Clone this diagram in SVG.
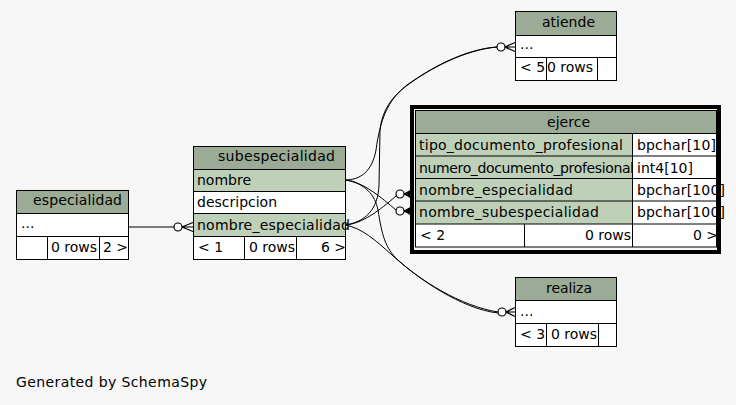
<svg xmlns="http://www.w3.org/2000/svg" width="736" height="405" viewBox="0 0 736 405">
<style>
text{font-family:"DejaVu Sans","Liberation Sans",sans-serif;font-size:14px;fill:#000}
.hd{fill:#9bab96}
.key{fill:#bed1b8}
.wh{fill:#ffffff}
.ln{stroke:#000;stroke-width:1;fill:none}
.edge{stroke:#000;stroke-width:1;fill:none}
.dot{stroke:#000;stroke-width:1.2;fill:#ffffff}
.crow{stroke:#000;stroke-width:1.2;fill:none}
.fcrow{stroke:#000;stroke-width:1;fill:#000}
</style>
<rect x="0" y="0" width="736" height="405" fill="#f7f7f7"/>

<g id="connectors">
  <path class="edge" d="M128,227 L174,227"/>
  <path class="edge" d="M345,180 C360,180 372,172 376,150 C380,120 388,100 405,87 C430,68 465,50 497,47"/>
  <path class="edge" d="M345,225 C365,222 378,210 379,185 L380,130 C382,110 392,97 407,85 C432,67 466,49 497,47"/>
  <path class="edge" d="M345,225 C362,224 380,210 396,196"/>
  <path class="edge" d="M345,180 C362,181 382,198 396,210"/>
  <path class="edge" d="M345,180 C365,183 375,195 378,210 C382,235 385,248 398,260 C420,280 460,306 498,312"/>
  <path class="edge" d="M345,225 C362,228 375,240 392,255 C418,279 462,309 498,313"/>
  <circle class="dot" cx="178" cy="227" r="4"/>
  <path class="crow" d="M182,227 L193,222.5 M182,227 L193,227 M182,227 L193,231.5"/>
  <circle class="dot" cx="501" cy="47" r="4"/>
  <path class="crow" d="M505,47 L515,42.5 M505,47 L515,47 M505,47 L515,51.5"/>
  <circle class="dot" cx="502" cy="312" r="4"/>
  <path class="crow" d="M506,312 L515,307.5 M506,312 L515,312 M506,312 L515,316.5"/>
  <circle class="dot" cx="400" cy="194" r="4"/>
  <path class="fcrow" d="M404,194 L412,189.5 L410,194 L412,198.5 Z"/>
  <circle class="dot" cx="400" cy="211" r="4"/>
  <path class="fcrow" d="M404,211 L412,206.5 L410,211 L412,215.5 Z"/>
</g>

<g id="especialidad">
  <rect class="hd" x="16.5" y="190.5" width="112" height="23"/>
  <rect class="wh" x="16.5" y="213.5" width="112" height="46"/>
  <rect class="ln" x="16.5" y="190.5" width="112" height="69"/>
  <path class="ln" d="M16.5,213.5 H128.5 M16.5,236.5 H128.5 M47.5,236.5 V259.5 M99.5,236.5 V259.5"/>
  <text x="33" y="205" textLength="89">especialidad</text>
  <text x="21" y="228">...</text>
  <text x="51" y="252">0 rows</text>
  <text x="103" y="252">2 &gt;</text>
</g>

<g id="subespecialidad">
  <rect class="hd" x="193.5" y="146.5" width="152" height="23"/>
  <rect class="key" x="193.5" y="169.5" width="152" height="22"/>
  <rect class="wh" x="193.5" y="191.5" width="152" height="22"/>
  <rect class="key" x="193.5" y="213.5" width="152" height="23"/>
  <rect class="wh" x="193.5" y="236.5" width="152" height="23"/>
  <rect class="ln" x="193.5" y="146.5" width="152" height="113"/>
  <path class="ln" d="M193.5,169.5 H345.5 M193.5,191.5 H345.5 M193.5,213.5 H345.5 M193.5,236.5 H345.5 M244.5,236.5 V259.5 M296.5,236.5 V259.5"/>
  <text x="218" y="161" textLength="117">subespecialidad</text>
  <text x="197" y="185">nombre</text>
  <text x="197" y="207">descripcion</text>
  <text x="197" y="230" textLength="153">nombre_especialidad</text>
  <text x="198" y="252">&lt; 1</text>
  <text x="249" y="252">0 rows</text>
  <text x="321" y="252">6 &gt;</text>
</g>

<g id="ejerce">
  <rect class="hd" x="415.5" y="110.5" width="301" height="23"/>
  <rect class="key" x="415.5" y="133.5" width="217" height="90.5"/>
  <rect class="wh" x="632.5" y="133.5" width="84" height="90.5"/>
  <rect class="wh" x="415.5" y="224" width="301" height="23"/>
  <rect class="ln" x="415.5" y="110.5" width="301" height="136.5"/>
  <path class="ln" d="M415.5,133.5 H716.5 M415.5,156 H716.5 M415.5,178.5 H716.5 M415.5,201 H716.5 M415.5,224 H716.5 M632.5,133.5 V247 M524.5,224 V247"/>
  <text x="547" y="127" textLength="43">ejerce</text>
  <text x="419" y="150" textLength="204">tipo_documento_profesional</text>
  <text x="637" y="150" textLength="79">bpchar[10]</text>
  <text x="419" y="173" textLength="215">numero_documento_profesional</text>
  <text x="637" y="173" textLength="56">int4[10]</text>
  <text x="419" y="195" textLength="154">nombre_especialidad</text>
  <text x="637" y="195" textLength="88">bpchar[100]</text>
  <text x="419" y="217" textLength="180">nombre_subespecialidad</text>
  <text x="637" y="217" textLength="88">bpchar[100]</text>
  <text x="420" y="240">&lt; 2</text>
  <text x="585" y="240">0 rows</text>
  <text x="693" y="240">0 &gt;</text>
  <rect x="412" y="107" width="307" height="145" fill="none" stroke="#000" stroke-width="4"/>
</g>

<g id="atiende">
  <rect class="hd" x="515.5" y="11.5" width="101" height="24"/>
  <rect class="wh" x="515.5" y="35.5" width="101" height="45"/>
  <rect class="ln" x="515.5" y="11.5" width="101" height="69"/>
  <path class="ln" d="M515.5,35.5 H616.5 M515.5,57.5 H616.5 M546.5,57.5 V80.5 M597.5,57.5 V80.5"/>
  <text x="542" y="27" textLength="53">atiende</text>
  <text x="520" y="49">...</text>
  <text x="520" y="72">&lt; 5</text>
  <text x="547" y="72">0 rows</text>
</g>

<g id="realiza">
  <rect class="hd" x="515.5" y="277.5" width="101" height="23"/>
  <rect class="wh" x="515.5" y="300.5" width="101" height="46"/>
  <rect class="ln" x="515.5" y="277.5" width="101" height="69"/>
  <path class="ln" d="M515.5,300.5 H616.5 M515.5,323.5 H616.5 M546.5,323.5 V346.5 M598.5,323.5 V346.5"/>
  <text x="546" y="293" textLength="46">realiza</text>
  <text x="520" y="316">...</text>
  <text x="520" y="339">&lt; 3</text>
  <text x="551" y="339">0 rows</text>
</g>

<text x="16" y="387" textLength="191">Generated by SchemaSpy</text>
</svg>
